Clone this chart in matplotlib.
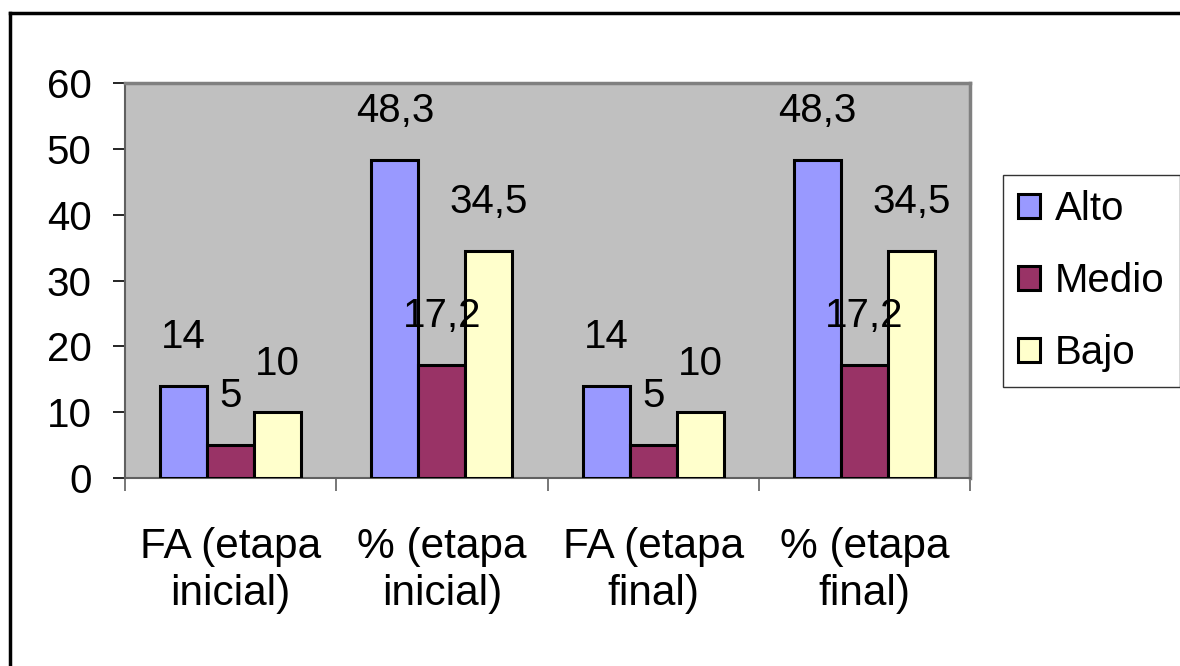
import numpy as np
import matplotlib
matplotlib.use("Agg")
import matplotlib.pyplot as plt
from matplotlib.lines import Line2D
from matplotlib.patches import Patch

plt.rcParams["font.family"] = ["Liberation Sans", "DejaVu Sans"]

# %% Data
categories = ["FA (etapa\ninicial)", "% (etapa\ninicial)", "FA (etapa\nfinal)", "% (etapa\nfinal)"]
series     = ["Alto", "Medio", "Bajo"]
alto       = [14, 48.3, 14, 48.3]
medio      = [5, 17.2, 5, 17.2]
bajo       = [10, 34.5, 10, 34.5]
colors     = ["#9999FF", "#993366", "#FFFFCC"]

FS = 29

# %% Figure
fig = plt.figure(figsize=(11.8, 6.66), dpi=100)
ax = fig.add_axes([125 / 1180, 1 - 478 / 666, 845 / 1180, 395 / 666])
ax.set_facecolor("#C0C0C0")

x = np.arange(len(categories))
w = 1 / 4.5
for k, (vals, col) in enumerate(zip([alto, medio, bajo], colors)):
    pos = x + (k - 1) * w
    ax.bar(pos, vals, width=w, color=col, edgecolor="black", linewidth=2.2, zorder=3)
    for xi, v in zip(pos, vals):
        label = f"{v:g}".replace(".", ",")
        ax.annotate(label, (xi, v), xytext=(0, 35), textcoords="offset points",
                    ha="center", va="center", fontsize=FS, zorder=4)

ax.set_xlim(-0.5, 3.5)
ax.set_ylim(0, 60)
ax.set_yticks(range(0, 61, 10))
ax.tick_params(axis="y", labelsize=FS, length=9, width=1.2, color="black", pad=15)

# category labels at centres, tick marks at boundaries
ax.set_xticks(np.arange(-0.5, 4, 1))
ax.set_xticklabels([])
ax.set_xticks(x, minor=True)
ax.set_xticklabels(categories, minor=True, fontsize=30.5, linespacing=1.25)
ax.tick_params(axis="x", which="major", length=9, width=1.2, color="#606060")
ax.tick_params(axis="x", which="minor", length=0, pad=35)

for side in ["top", "right"]:
    ax.spines[side].set_color("#808080")
    ax.spines[side].set_linewidth(2.5)
for side in ["left", "bottom"]:
    ax.spines[side].set_color("#606060")
    ax.spines[side].set_linewidth(1.5)

# legend
handles = [Patch(facecolor=c, edgecolor="black", linewidth=2.2) for c in colors]
leg = fig.legend(handles, series, loc="upper left",
                 bbox_to_anchor=(1003 / 1180, 1 - 175 / 666),
                 fontsize=FS, frameon=True, fancybox=False,
                 handlelength=0.55, handleheight=0.55, handletextpad=0.35,
                 labelspacing=0.84, borderpad=0.38, borderaxespad=0)
leg.get_frame().set_edgecolor("black")
leg.get_frame().set_linewidth(1.0)

# outer chart border (only top and left visible)
fig.add_artist(Line2D([10 / 1180, 1], [1 - 13 / 666, 1 - 13 / 666], color="black", linewidth=2.5))
fig.add_artist(Line2D([10 / 1180, 10 / 1180], [0, 1 - 13 / 666], color="black", linewidth=2.5))

fig.savefig("out.png", dpi=100)
